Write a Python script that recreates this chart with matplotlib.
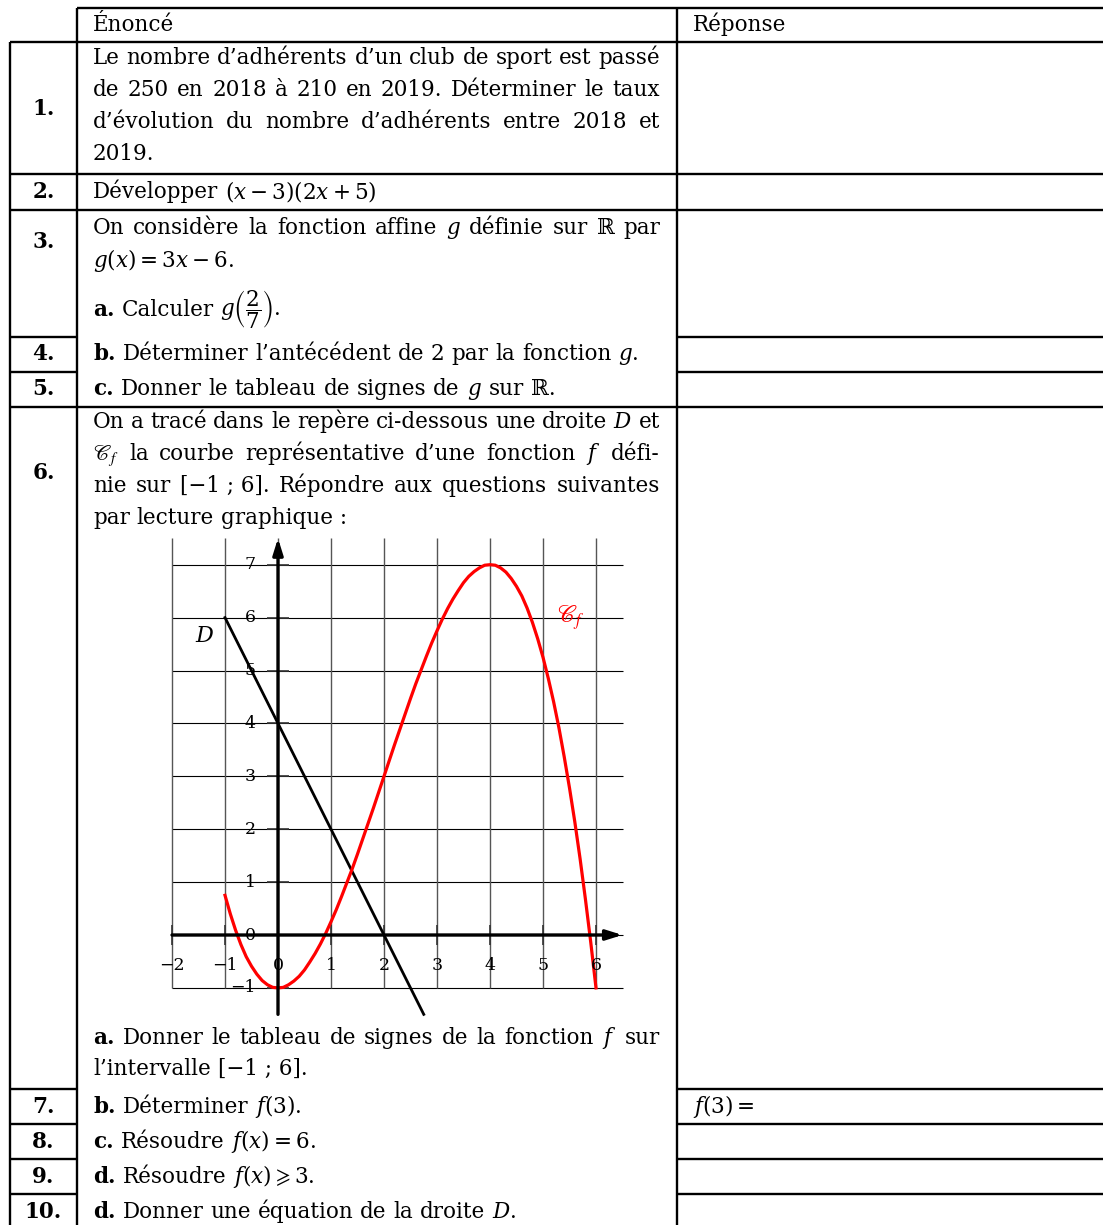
'''
Fiche d'exercices : tableau énoncé / réponse avec un repère
'''

import matplotlib
matplotlib.use('Agg')
import matplotlib.pyplot as plt

plt.rcParams['font.family'] = ['DejaVu Serif', 'DejaVu Sans']
plt.rcParams['mathtext.fontset'] = 'dejavuserif'

# courbe C_f
f_x = [-1.0, -0.9, -0.8, -0.7, -0.6, -0.5, -0.4, -0.3, -0.2, -0.1,
       0.0, 0.1, 0.2, 0.3, 0.4, 0.5, 0.6, 0.7, 0.8, 0.9,
       1.0, 1.1, 1.2, 1.3, 1.4, 1.5, 1.6, 1.7, 1.8, 1.9,
       2.0, 2.1, 2.2, 2.3, 2.4, 2.5, 2.6, 2.7, 2.8, 2.9,
       3.0, 3.1, 3.2, 3.3, 3.4, 3.5, 3.6, 3.7, 3.8, 3.9,
       4.0, 4.1, 4.2, 4.3, 4.4, 4.5, 4.6, 4.7, 4.8, 4.9,
       5.0, 5.1, 5.2, 5.3, 5.4, 5.5, 5.6, 5.7, 5.8, 5.9, 6.0]
f_y = [0.75, 0.40, 0.09, -0.18, -0.41, -0.59, -0.74, -0.86, -0.94, -0.99,
       -1.00, -0.99, -0.94, -0.87, -0.78, -0.66, -0.51, -0.35, -0.17, 0.03,
       0.25, 0.48, 0.73, 0.99, 1.25, 1.53, 1.82, 2.11, 2.40, 2.70,
       3.00, 3.30, 3.60, 3.89, 4.18, 4.47, 4.75, 5.01, 5.27, 5.52,
       5.75, 5.97, 6.17, 6.35, 6.51, 6.66, 6.78, 6.87, 6.94, 6.99,
       7.00, 6.99, 6.94, 6.86, 6.74, 6.59, 6.41, 6.18, 5.91, 5.60,
       5.25, 4.85, 4.41, 3.92, 3.37, 2.78, 2.14, 1.44, 0.68, -0.13, -1.00]
# droite D
d_x = [-1, 2.75]
d_y = [6, -1.5]
# graduations
x_ticks = [-2, -1, 0, 1, 2, 3, 4, 5, 6]
y_ticks = [-1, 0, 1, 2, 3, 4, 5, 6, 7]

# numéros des questions et leur ligne de base
numbers = ['1.', '2.', '3.', '4.', '5.', '6.', '7.', '8.', '9.', '10.']
number_y = [115, 198, 248, 360, 395, 479, 1113, 1148, 1183, 1218]

# lignes du texte : (x, ligne de base, texte, justifié)
enonce = [
    (93, 31, 'Énoncé', False),
    (93, 64, 'Le nombre d’adhérents d’un club de sport est passé', True),
    (93, 96, 'de 250 en 2018 à 210 en 2019. Déterminer le taux', True),
    (93, 128, 'd’évolution du nombre d’adhérents entre 2018 et', True),
    (93, 160, '2019.', False),
    (93, 198, 'Développer $(x-3)(2x+5)$', False),
    (93, 234, 'On considère la fonction affine $g$ définie sur ℝ par', True),
    (93, 267, '$g(x)=3x-6$.', False),
    (93, 316, r'**a.** Calculer $g\left(\dfrac{2}{7}\right)$.', False),
    (93, 360, '**b.** Déterminer l’antécédent de 2 par la fonction $g$.', False),
    (93, 395, '**c.** Donner le tableau de signes de $g$ sur ℝ.', False),
    (93, 428, 'On a tracé dans le repère ci-dessous une droite $D$ et', True),
    (93, 460, r'$\mathscr{C}_f$ la courbe représentative d’une fonction $f$ défi-', True),
    (93, 492, 'nie sur [−1\u00a0;\u00a06]. Répondre aux questions suivantes', True),
    (93, 524, 'par lecture graphique\u00a0:', False),
    (93, 1044, '**a.** Donner le tableau de signes de la fonction $f$ sur', True),
    (93, 1075, 'l’intervalle [−1\u00a0;\u00a06].', False),
    (93, 1113, '**b.** Déterminer $f(3)$.', False),
    (93, 1148, '**c.** Résoudre $f(x)=6$.', False),
    (93, 1183, r'**d.** Résoudre $f(x)\geqslant3$.', False),
    (93, 1218, '**d.** Donner une équation de la droite $D$.', False),
    (693, 31, 'Réponse', False),
    (693, 1113, '$f(3)=$', False),
]

W, H = 1103, 1225
TXT = 15.5
SPACE = 0.32 * TXT * 100 / 72
RIGHT = 660

fig = plt.figure(figsize=(W / 100, H / 100), dpi=100)
page = fig.add_axes([0, 0, 1, 1])
page.set_xlim(0, W)
page.set_ylim(H, 0)
page.axis('off')


def put_line(x0, y, line, justify):
    '''
    Place les mots d'une ligne, justifiée jusqu'à RIGHT si demandé
    '''
    renderer = fig.canvas.get_renderer()
    items = []
    for word in line.split(' '):
        weight = 'normal'
        if word.startswith('**'):
            word = word.strip('*')
            weight = 'bold'
        mfont = 'stix' if 'mathscr' in word else 'dejavuserif'
        text = page.text(x0, y, word, fontsize=TXT, fontweight=weight,
                         ha='left', va='baseline', math_fontfamily=mfont)
        items.append((text, text.get_window_extent(renderer).width))
    gap = SPACE
    if justify and len(items) > 1:
        gap = (RIGHT - x0 - sum(w for _, w in items)) / (len(items) - 1)
    x = x0
    for text, width in items:
        text.set_x(x)
        x += width + gap


# tableau
lw = 1.7
full_rows = [42, 174, 210, 407]
split_rows = [337, 372, 1089, 1124, 1159, 1194]
page.hlines(8, 77, W, color='black', lw=lw)
page.hlines(full_rows, 10, W, color='black', lw=lw)
page.hlines(split_rows, 10, 77, color='black', lw=lw)
page.hlines(split_rows, 677, W, color='black', lw=lw)
page.vlines(10, 42, H, color='black', lw=lw)
page.vlines([77, 677], 8, H, color='black', lw=lw)

for label, y in zip(numbers, number_y):
    page.text(43.5, y, label, fontsize=TXT, fontweight='bold',
              ha='center', va='baseline')

for x0, y, line, justify in enonce:
    put_line(x0, y, line, justify)

# repère : origine en (278, 935) px, 53 px par unité
ox, oy, ux, uy = 278, 935, 53, 52.9
xmin, xmax, ymin, ymax = -2.5, 7, -2, 8
ax = fig.add_axes([(ox + xmin * ux) / W, (H - (oy - ymin * uy)) / H,
                   (xmax - xmin) * ux / W, (ymax - ymin) * uy / H])
ax.set_xlim(xmin, xmax)
ax.set_ylim(ymin, ymax)
ax.axis('off')

ax.hlines(y_ticks, -2, 6.5, color='black', lw=0.8)
ax.vlines(x_ticks, -1, 7.5, color='#555555', lw=1.0)

arrow = dict(arrowstyle='-|>,head_length=0.8,head_width=0.25', lw=2.4,
             color='black', shrinkA=0, shrinkB=0, mutation_scale=12)
ax.annotate('', xy=(6.5, 0), xytext=(-2, 0), arrowprops=arrow)
ax.annotate('', xy=(0, 7.5), xytext=(0, -1.5), arrowprops=arrow)
ax.vlines(x_ticks, -0.19, 0.19, color='#333333', lw=1.2)
ax.hlines(y_ticks, -0.2, 0.2, color='#333333', lw=1.2)

for x in x_ticks:
    ax.text(x, -0.57, str(x).replace('-', '−'), fontsize=12.5,
            ha='center', va='center')
for y in y_ticks:
    ax.text(-0.42, y, str(y).replace('-', '−'), fontsize=12.5,
            ha='right', va='center')

ax.plot(d_x, d_y, color='black', lw=2.0)
ax.plot(f_x, f_y, color='red', lw=2.3)
ax.text(-1.38, 5.65, '$D$', fontsize=16, ha='center', va='center')
ax.text(5.53, 6.0, r'$\mathscr{C}_f$', fontsize=17, color='red',
        ha='center', va='center', math_fontfamily='stix')

fig.savefig('out.png', dpi=100)
